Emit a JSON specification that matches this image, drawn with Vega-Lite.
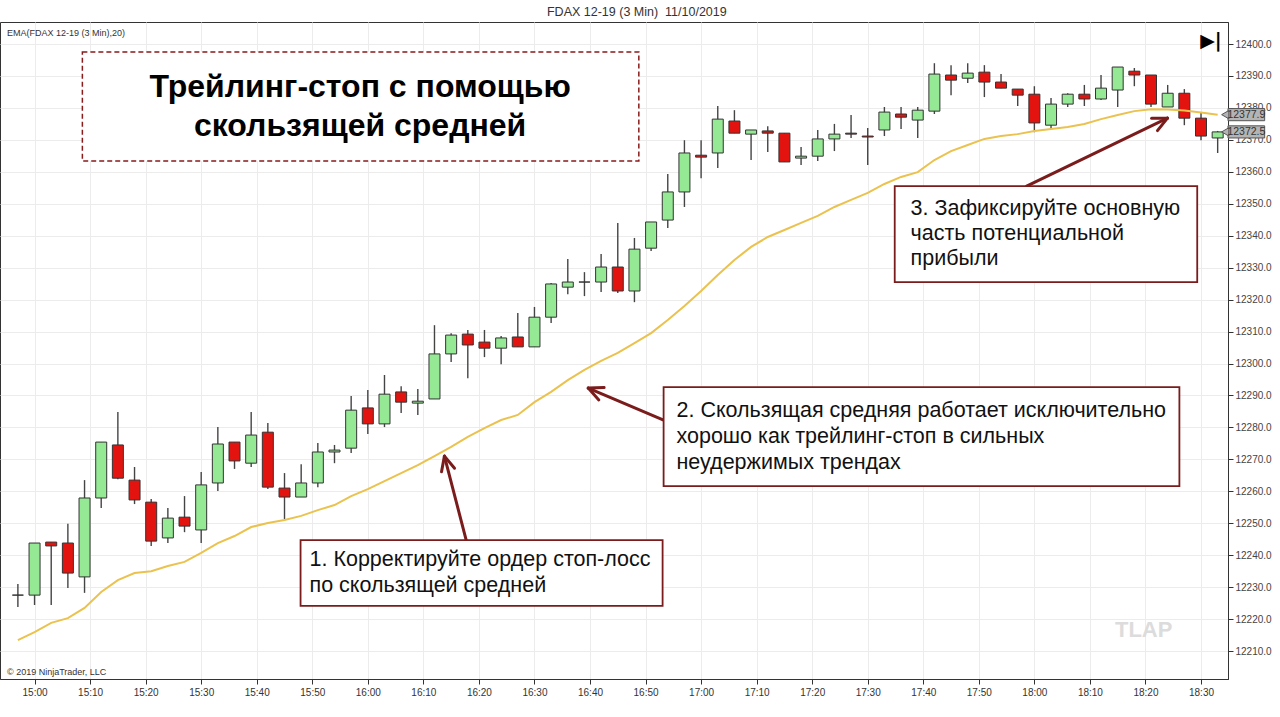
{
  "$schema": "https://vega.github.io/schema/vega-lite/v6.json",
  "width": 1228,
  "height": 657,
  "autosize": {"type": "none"},
  "padding": {"left": 0, "top": 22, "right": 52, "bottom": 38},
  "background": "white",
  "config": {"view": {"stroke": "#333333", "strokeWidth": 1}},
  "layer": [
    {
      "data": {"values": [
        {"time":"14:57","m":-3,"o":12227.5,"h":12231,"l":12223.8,"c":12227.5,"ema":12213.4},
        {"time":"15:00","m":0,"o":12227.5,"h":12243.8,"l":12224.4,"c":12243.8,"ema":12215.9},
        {"time":"15:03","m":3,"o":12244.1,"h":12244.1,"l":12224.4,"c":12242.9,"ema":12218.8},
        {"time":"15:06","m":6,"o":12243.8,"h":12249.8,"l":12229.7,"c":12234.4,"ema":12220.3},
        {"time":"15:09","m":9,"o":12233.2,"h":12263.5,"l":12228.2,"c":12257.9,"ema":12223.5},
        {"time":"15:12","m":12,"o":12257.9,"h":12275.4,"l":12254.8,"c":12275.4,"ema":12228.5},
        {"time":"15:15","m":15,"o":12274.5,"h":12284.8,"l":12263.8,"c":12264.1,"ema":12232.2},
        {"time":"15:18","m":18,"o":12263.5,"h":12267.6,"l":12256,"c":12257.3,"ema":12234.4},
        {"time":"15:21","m":21,"o":12256.6,"h":12257.6,"l":12242.9,"c":12244.4,"ema":12235},
        {"time":"15:24","m":24,"o":12245.4,"h":12254.8,"l":12243.8,"c":12251.6,"ema":12236.6},
        {"time":"15:27","m":27,"o":12251.9,"h":12258.5,"l":12247.2,"c":12249.1,"ema":12237.9},
        {"time":"15:30","m":30,"o":12247.9,"h":12266,"l":12243.8,"c":12262,"ema":12240.7},
        {"time":"15:33","m":33,"o":12262.6,"h":12280.1,"l":12260.1,"c":12274.8,"ema":12243.8},
        {"time":"15:36","m":36,"o":12275.4,"h":12275.4,"l":12267,"c":12269.5,"ema":12246},
        {"time":"15:39","m":39,"o":12268.8,"h":12284.8,"l":12267.6,"c":12277.6,"ema":12248.8},
        {"time":"15:42","m":42,"o":12278.5,"h":12281.4,"l":12260.7,"c":12261.3,"ema":12250.1},
        {"time":"15:45","m":45,"o":12261,"h":12265.7,"l":12251.3,"c":12258.2,"ema":12251},
        {"time":"15:48","m":48,"o":12258.2,"h":12268.5,"l":12258.2,"c":12262.6,"ema":12252.3},
        {"time":"15:51","m":51,"o":12262.6,"h":12275.1,"l":12261.3,"c":12272.3,"ema":12254.1},
        {"time":"15:54","m":54,"o":12272.3,"h":12274.5,"l":12268.8,"c":12272.9,"ema":12255.7},
        {"time":"15:57","m":57,"o":12273.5,"h":12289.8,"l":12272,"c":12285.4,"ema":12258.5},
        {"time":"16:00","m":60,"o":12286.1,"h":12291.7,"l":12277.9,"c":12281.1,"ema":12260.7},
        {"time":"16:03","m":63,"o":12281.1,"h":12296.4,"l":12280.1,"c":12290.4,"ema":12263.2},
        {"time":"16:06","m":66,"o":12291.1,"h":12292.9,"l":12284.5,"c":12287.9,"ema":12265.7},
        {"time":"16:09","m":69,"o":12287.6,"h":12292,"l":12283.9,"c":12288.2,"ema":12268.2},
        {"time":"16:12","m":72,"o":12288.9,"h":12312,"l":12288.9,"c":12303,"ema":12271},
        {"time":"16:15","m":75,"o":12303,"h":12309.5,"l":12300.5,"c":12308.9,"ema":12273.9},
        {"time":"16:18","m":78,"o":12309.2,"h":12310.5,"l":12295.4,"c":12305.8,"ema":12277},
        {"time":"16:21","m":81,"o":12306.7,"h":12310.5,"l":12302,"c":12304.8,"ema":12279.8},
        {"time":"16:24","m":84,"o":12304.8,"h":12308.6,"l":12299.8,"c":12308,"ema":12282.3},
        {"time":"16:27","m":87,"o":12308.3,"h":12315.8,"l":12305.2,"c":12305.2,"ema":12283.9},
        {"time":"16:30","m":90,"o":12305.2,"h":12317.7,"l":12305.2,"c":12314.5,"ema":12287.9},
        {"time":"16:33","m":93,"o":12314.5,"h":12325.2,"l":12312.7,"c":12324.9,"ema":12291.1},
        {"time":"16:36","m":96,"o":12323.9,"h":12332.7,"l":12321.7,"c":12325.5,"ema":12294.8},
        {"time":"16:39","m":99,"o":12325.5,"h":12328.6,"l":12321.1,"c":12325.5,"ema":12298},
        {"time":"16:42","m":102,"o":12325.5,"h":12334.3,"l":12322.4,"c":12330.2,"ema":12300.8},
        {"time":"16:45","m":105,"o":12330.2,"h":12344,"l":12322.1,"c":12322.7,"ema":12303.3},
        {"time":"16:48","m":108,"o":12322.7,"h":12339.3,"l":12319.2,"c":12335.8,"ema":12306.4},
        {"time":"16:51","m":111,"o":12336.1,"h":12344.3,"l":12335.2,"c":12344.3,"ema":12309.5},
        {"time":"16:54","m":114,"o":12344.9,"h":12359.3,"l":12342.4,"c":12353.7,"ema":12313.6},
        {"time":"16:57","m":117,"o":12353.7,"h":12369.9,"l":12349,"c":12365.9,"ema":12318},
        {"time":"17:00","m":120,"o":12365.2,"h":12369.9,"l":12358,"c":12364.6,"ema":12322.7},
        {"time":"17:03","m":123,"o":12365.9,"h":12380.6,"l":12361.2,"c":12376.5,"ema":12327.7},
        {"time":"17:06","m":126,"o":12375.9,"h":12379.3,"l":12372.1,"c":12372.1,"ema":12332.4},
        {"time":"17:09","m":129,"o":12371.8,"h":12373.1,"l":12363.7,"c":12373.1,"ema":12336.5},
        {"time":"17:12","m":132,"o":12372.8,"h":12374.3,"l":12366.2,"c":12372.1,"ema":12339.6},
        {"time":"17:15","m":135,"o":12372.1,"h":12372.1,"l":12363.1,"c":12363.1,"ema":12341.8},
        {"time":"17:18","m":138,"o":12364.3,"h":12367.8,"l":12362.1,"c":12364.9,"ema":12344},
        {"time":"17:21","m":141,"o":12364.9,"h":12373.1,"l":12363.4,"c":12370.3,"ema":12346.2},
        {"time":"17:24","m":144,"o":12370.3,"h":12375,"l":12366.5,"c":12371.8,"ema":12349},
        {"time":"17:27","m":147,"o":12372.1,"h":12377.8,"l":12370.6,"c":12371.8,"ema":12351.2},
        {"time":"17:30","m":150,"o":12371.2,"h":12373.7,"l":12362.1,"c":12370.9,"ema":12353.4},
        {"time":"17:33","m":153,"o":12373.1,"h":12380.3,"l":12371.2,"c":12378.7,"ema":12356.2},
        {"time":"17:36","m":156,"o":12378.1,"h":12380.3,"l":12373.4,"c":12377.1,"ema":12358.4},
        {"time":"17:39","m":159,"o":12376.2,"h":12380.3,"l":12370.6,"c":12379.3,"ema":12359.9},
        {"time":"17:42","m":162,"o":12379,"h":12394,"l":12378.1,"c":12390.6,"ema":12363.7},
        {"time":"17:45","m":165,"o":12390.3,"h":12393.4,"l":12384,"c":12388.7,"ema":12366.5},
        {"time":"17:48","m":168,"o":12389.3,"h":12394,"l":12387.8,"c":12390.9,"ema":12368.4},
        {"time":"17:51","m":171,"o":12391.2,"h":12393.4,"l":12383.4,"c":12388.1,"ema":12370.3},
        {"time":"17:54","m":174,"o":12388.1,"h":12390.6,"l":12386.2,"c":12386.2,"ema":12371.2},
        {"time":"17:57","m":177,"o":12385.9,"h":12385.9,"l":12380.6,"c":12384,"ema":12371.8},
        {"time":"18:00","m":180,"o":12384.3,"h":12386.8,"l":12372.4,"c":12375.3,"ema":12372.8},
        {"time":"18:03","m":183,"o":12374.6,"h":12383.1,"l":12373.4,"c":12381.2,"ema":12373.4},
        {"time":"18:06","m":186,"o":12381.2,"h":12384.6,"l":12380.3,"c":12384.3,"ema":12374},
        {"time":"18:09","m":189,"o":12384.3,"h":12387.2,"l":12380.6,"c":12382.8,"ema":12375},
        {"time":"18:12","m":192,"o":12382.8,"h":12390.3,"l":12382.5,"c":12386.2,"ema":12376.5},
        {"time":"18:15","m":195,"o":12385.6,"h":12392.8,"l":12380.3,"c":12392.8,"ema":12377.8},
        {"time":"18:18","m":198,"o":12391.5,"h":12392.5,"l":12386.8,"c":12390.3,"ema":12379},
        {"time":"18:21","m":201,"o":12390.3,"h":12390.3,"l":12380.3,"c":12381.2,"ema":12379.6},
        {"time":"18:24","m":204,"o":12380.3,"h":12387.2,"l":12380.3,"c":12384.6,"ema":12379.5},
        {"time":"18:27","m":207,"o":12384.6,"h":12385.9,"l":12374.6,"c":12376.8,"ema":12379.2},
        {"time":"18:30","m":210,"o":12376.8,"h":12378.4,"l":12369.9,"c":12371.2,"ema":12378.6},
        {"time":"18:33","m":213,"o":12370.6,"h":12372.8,"l":12365.9,"c":12372.5,"ema":12377.9}
      ]},
      "encoding": {
        "x": {"field": "m", "type": "quantitative", "title": null,
          "scale": {"domain": [-5.32, 213.96], "zero": false, "nice": false},
          "axis": {"orient": "bottom", "values": [0,10,20,30,40,50,60,70,80,90,100,110,120,130,140,150,160,170,180,190,200,210],
            "labelExpr": "timeFormat(datetime(2019, 10, 10, 15, datum.value, 0, 0), '%H:%M')",
            "labelFontSize": 10, "labelColor": "#333333", "tickColor": "#333333", "tickSize": 5, "labelPadding": 3, "domainColor": "#333333", "gridColor": "#ececec", "grid": true, "labelFont": "Liberation Sans", "labelOverlap": false}}
      },
      "layer": [
        {
          "mark": {"type": "rule", "color": "#444444", "strokeWidth": 1.4},
          "encoding": {
            "y": {"field": "l", "type": "quantitative", "title": null,
              "scale": {"domain": [12201.24, 12406.9], "zero": false, "nice": false},
              "axis": {"orient": "right", "values": [12210,12220,12230,12240,12250,12260,12270,12280,12290,12300,12310,12320,12330,12340,12350,12360,12370,12380,12390,12400], "format": ".1f", "labelFontSize": 10, "labelColor": "#444444", "tickColor": "#333333", "tickSize": 5, "labelPadding": 2, "domainColor": "#333333", "gridColor": "#ececec", "grid": true, "labelFont": "Liberation Sans", "labelOverlap": false}},
            "y2": {"field": "h"}
          }
        },
        {
          "mark": {"type": "bar", "size": 11, "stroke": "#333333", "strokeWidth": 1},
          "encoding": {
            "y": {"field": "o", "type": "quantitative", "title": null,
              "axis": {"orient": "right", "values": [12210,12220,12230,12240,12250,12260,12270,12280,12290,12300,12310,12320,12330,12340,12350,12360,12370,12380,12390,12400], "format": ".1f", "labelFontSize": 10, "labelColor": "#444444", "tickColor": "#333333", "tickSize": 5, "labelPadding": 2, "domainColor": "#333333", "gridColor": "#ececec", "grid": true, "labelFont": "Liberation Sans", "labelOverlap": false}},
            "y2": {"field": "c"},
            "fill": {"condition": {"test": "datum.c >= datum.o", "value": "#95E995"}, "value": "#E3140F"}
          }
        },
        {
          "mark": {"type": "line", "color": "#EBC24E", "strokeWidth": 2},
          "encoding": {
            "y": {"field": "ema", "type": "quantitative", "title": null,
              "axis": {"orient": "right", "values": [12210,12220,12230,12240,12250,12260,12270,12280,12290,12300,12310,12320,12330,12340,12350,12360,12370,12380,12390,12400], "format": ".1f", "labelFontSize": 10, "labelColor": "#444444", "tickColor": "#333333", "tickSize": 5, "labelPadding": 2, "domainColor": "#333333", "gridColor": "#ececec", "grid": true, "labelFont": "Liberation Sans", "labelOverlap": false}}
          }
        }
      ]
    },
    {
      "data": {"values": [
        {"m": 8.61, "m2": 108.79, "p": 12397.5, "p2": 12363.4}
      ]},
      "mark": {"type": "rect", "fill": "white", "stroke": "#8B1A1A", "strokeWidth": 1.5, "strokeDash": [5, 3]},
      "encoding": {
        "x": {"field": "m", "type": "quantitative", "title": null},
        "x2": {"field": "m2"},
        "y": {"field": "p", "type": "quantitative", "title": null,
          "axis": {"orient": "right", "values": [12210,12220,12230,12240,12250,12260,12270,12280,12290,12300,12310,12320,12330,12340,12350,12360,12370,12380,12390,12400], "format": ".1f", "labelFontSize": 10, "labelColor": "#444444", "tickColor": "#333333", "tickSize": 5, "labelPadding": 2, "domainColor": "#333333", "gridColor": "#ececec", "grid": true, "labelFont": "Liberation Sans", "labelOverlap": false}},
        "y2": {"field": "p2"}
      }
    },
    {
      "data": {"values": [
        {"m": 77.71, "m2": 73.79, "p": 12244.7, "p2": 12271.0},
        {"m": 73.79, "m2": 73.27, "p": 12271.0, "p2": 12266.1},
        {"m": 73.79, "m2": 75.61, "p": 12271.0, "p2": 12267.2},
        {"m": 113.25, "m2": 99.68, "p": 12282.3, "p2": 12292.3},
        {"m": 99.68, "m2": 101.59, "p": 12292.3, "p2": 12288.6},
        {"m": 99.68, "m2": 102.54, "p": 12292.3, "p2": 12292.5},
        {"m": 178.61, "m2": 203.96, "p": 12355.5, "p2": 12376.8},
        {"m": 203.96, "m2": 201.11, "p": 12376.8, "p2": 12376.8},
        {"m": 203.96, "m2": 202.16, "p": 12376.8, "p2": 12372.9}
      ]},
      "mark": {"type": "rule", "color": "#7B1C1C", "strokeWidth": 3, "strokeCap": "round"},
      "encoding": {
        "x": {"field": "m", "type": "quantitative", "title": null},
        "x2": {"field": "m2"},
        "y": {"field": "p", "type": "quantitative", "title": null,
          "axis": {"orient": "right", "values": [12210,12220,12230,12240,12250,12260,12270,12280,12290,12300,12310,12320,12330,12340,12350,12360,12370,12380,12390,12400], "format": ".1f", "labelFontSize": 10, "labelColor": "#444444", "tickColor": "#333333", "tickSize": 5, "labelPadding": 2, "domainColor": "#333333", "gridColor": "#ececec", "grid": true, "labelFont": "Liberation Sans", "labelOverlap": false}},
        "y2": {"field": "p2"}
      }
    },
    {
      "data": {"values": [
        {"m": 47.89, "m2": 113.07, "p": 12244.7, "p2": 12224.1},
        {"m": 113.25, "m2": 206.11, "p": 12292.6, "p2": 12261.6},
        {"m": 154.86, "m2": 209.32, "p": 12355.5, "p2": 12325.5}
      ]},
      "mark": {"type": "rect", "fill": "white", "stroke": "#7B1C1C", "strokeWidth": 1.8},
      "encoding": {
        "x": {"field": "m", "type": "quantitative", "title": null},
        "x2": {"field": "m2"},
        "y": {"field": "p", "type": "quantitative", "title": null,
          "axis": {"orient": "right", "values": [12210,12220,12230,12240,12250,12260,12270,12280,12290,12300,12310,12320,12330,12340,12350,12360,12370,12380,12390,12400], "format": ".1f", "labelFontSize": 10, "labelColor": "#444444", "tickColor": "#333333", "tickSize": 5, "labelPadding": 2, "domainColor": "#333333", "gridColor": "#ececec", "grid": true, "labelFont": "Liberation Sans", "labelOverlap": false}},
        "y2": {"field": "p2"}
      }
    },
    {
      "data": {"values": [
        {"m": 49.5, "p": 12238.5, "txt": "1. Корректируйте ордер стоп-лосс"},
        {"m": 49.5, "p": 12230.3, "txt": "по скользящей средней"},
        {"m": 115.57, "p": 12285.1, "txt": "2. Скользящая средняя работает исключительно"},
        {"m": 115.57, "p": 12277.0, "txt": "хорошо как трейлинг-стоп в сильных"},
        {"m": 115.57, "p": 12268.8, "txt": "неудержимых трендах"},
        {"m": 157.71, "p": 12348.3, "txt": "3. Зафиксируйте основную"},
        {"m": 157.71, "p": 12340.5, "txt": "часть потенциальной"},
        {"m": 157.71, "p": 12332.7, "txt": "прибыли"},
        {"m": 58.61, "p": 12386.5, "txt": "Трейлинг-стоп с помощью", "big": true},
        {"m": 58.61, "p": 12374.3, "txt": "скользящей средней", "big": true},
        {"m": 108.43, "p": 12410.0, "txt": "FDAX 12-19 (3 Min)\u00a0\u00a011/10/2019", "hdr": true},
        {"m": -4.96, "p": 12403.4, "txt": "EMA(FDAX 12-19 (3 Min),20)", "small": true},
        {"m": -4.96, "p": 12203.4, "txt": "© 2019 NinjaTrader, LLC", "small": true},
        {"m": 199.68, "p": 12216.6, "txt": "TLAP", "wm": true},
        {"m": 211.8, "p": 12400.9, "txt": "▶|", "icon": true}
      ]},
      "encoding": {
        "x": {"field": "m", "type": "quantitative", "title": null},
        "y": {"field": "p", "type": "quantitative", "title": null,
          "axis": {"orient": "right", "values": [12210,12220,12230,12240,12250,12260,12270,12280,12290,12300,12310,12320,12330,12340,12350,12360,12370,12380,12390,12400], "format": ".1f", "labelFontSize": 10, "labelColor": "#444444", "tickColor": "#333333", "tickSize": 5, "labelPadding": 2, "domainColor": "#333333", "gridColor": "#ececec", "grid": true, "labelFont": "Liberation Sans", "labelOverlap": false}},
        "text": {"field": "txt"}
      },
      "layer": [
        {
          "transform": [{"filter": "!datum.big && !datum.hdr && !datum.small && !datum.wm && !datum.icon"}],
          "mark": {"type": "text", "align": "left", "baseline": "middle", "fontSize": 21.5, "font": "Liberation Sans", "color": "#111111"}
        },
        {
          "transform": [{"filter": "datum.big"}],
          "mark": {"type": "text", "align": "center", "baseline": "middle", "fontSize": 32, "fontWeight": "bold", "font": "Liberation Sans", "color": "#000000"}
        },
        {
          "transform": [{"filter": "datum.hdr"}],
          "mark": {"type": "text", "align": "center", "baseline": "middle", "fontSize": 12.5, "font": "Liberation Sans", "color": "#333333"}
        },
        {
          "transform": [{"filter": "datum.small"}],
          "mark": {"type": "text", "align": "left", "baseline": "middle", "fontSize": 9, "font": "Liberation Sans", "color": "#333333"}
        },
        {
          "transform": [{"filter": "datum.wm"}],
          "mark": {"type": "text", "align": "center", "baseline": "middle", "fontSize": 22, "fontWeight": "bold", "font": "Liberation Sans", "color": "#DCDCDC"}
        },
        {
          "transform": [{"filter": "datum.icon"}],
          "mark": {"type": "text", "align": "center", "baseline": "middle", "fontSize": 19, "fontWeight": "bold", "font": "DejaVu Sans", "color": "#000000"}
        }
      ]
    },
    {
      "data": {"values": [
        {"m": 214.86, "m2": 221.46, "p": 12379.8, "p2": 12376.0, "mt": 218.17, "mp": 214.37, "v": 12377.9, "lbl": "12377.9"},
        {"m": 214.86, "m2": 221.46, "p": 12374.4, "p2": 12370.6, "mt": 218.17, "mp": 214.37, "v": 12372.5, "lbl": "12372.5"}
      ]},
      "layer": [
        {
          "mark": {"type": "rect", "fill": "#B4B4B4", "stroke": "#555555", "strokeWidth": 1},
          "encoding": {
            "x": {"field": "m", "type": "quantitative", "title": null},
            "x2": {"field": "m2"},
            "y": {"field": "p", "type": "quantitative", "title": null,
              "axis": {"orient": "right", "values": [12210,12220,12230,12240,12250,12260,12270,12280,12290,12300,12310,12320,12330,12340,12350,12360,12370,12380,12390,12400], "format": ".1f", "labelFontSize": 10, "labelColor": "#444444", "tickColor": "#333333", "tickSize": 5, "labelPadding": 2, "domainColor": "#333333", "gridColor": "#ececec", "grid": true, "labelFont": "Liberation Sans", "labelOverlap": false}},
            "y2": {"field": "p2"}
          }
        },
        {
          "mark": {"type": "point", "shape": "triangle-left", "size": 70, "filled": true, "fill": "#B4B4B4", "stroke": "#555555", "strokeWidth": 1, "opacity": 1},
          "encoding": {
            "x": {"field": "mp", "type": "quantitative", "title": null},
            "y": {"field": "v", "type": "quantitative", "title": null,
              "axis": {"orient": "right", "values": [12210,12220,12230,12240,12250,12260,12270,12280,12290,12300,12310,12320,12330,12340,12350,12360,12370,12380,12390,12400], "format": ".1f", "labelFontSize": 10, "labelColor": "#444444", "tickColor": "#333333", "tickSize": 5, "labelPadding": 2, "domainColor": "#333333", "gridColor": "#ececec", "grid": true, "labelFont": "Liberation Sans", "labelOverlap": false}}
          }
        },
        {
          "mark": {"type": "text", "align": "center", "baseline": "middle", "fontSize": 10.5, "font": "Liberation Sans", "color": "#333333"},
          "encoding": {
            "x": {"field": "mt", "type": "quantitative", "title": null},
            "y": {"field": "v", "type": "quantitative", "title": null,
              "axis": {"orient": "right", "values": [12210,12220,12230,12240,12250,12260,12270,12280,12290,12300,12310,12320,12330,12340,12350,12360,12370,12380,12390,12400], "format": ".1f", "labelFontSize": 10, "labelColor": "#444444", "tickColor": "#333333", "tickSize": 5, "labelPadding": 2, "domainColor": "#333333", "gridColor": "#ececec", "grid": true, "labelFont": "Liberation Sans", "labelOverlap": false}},
            "text": {"field": "lbl"}
          }
        }
      ]
    }
  ]
}
